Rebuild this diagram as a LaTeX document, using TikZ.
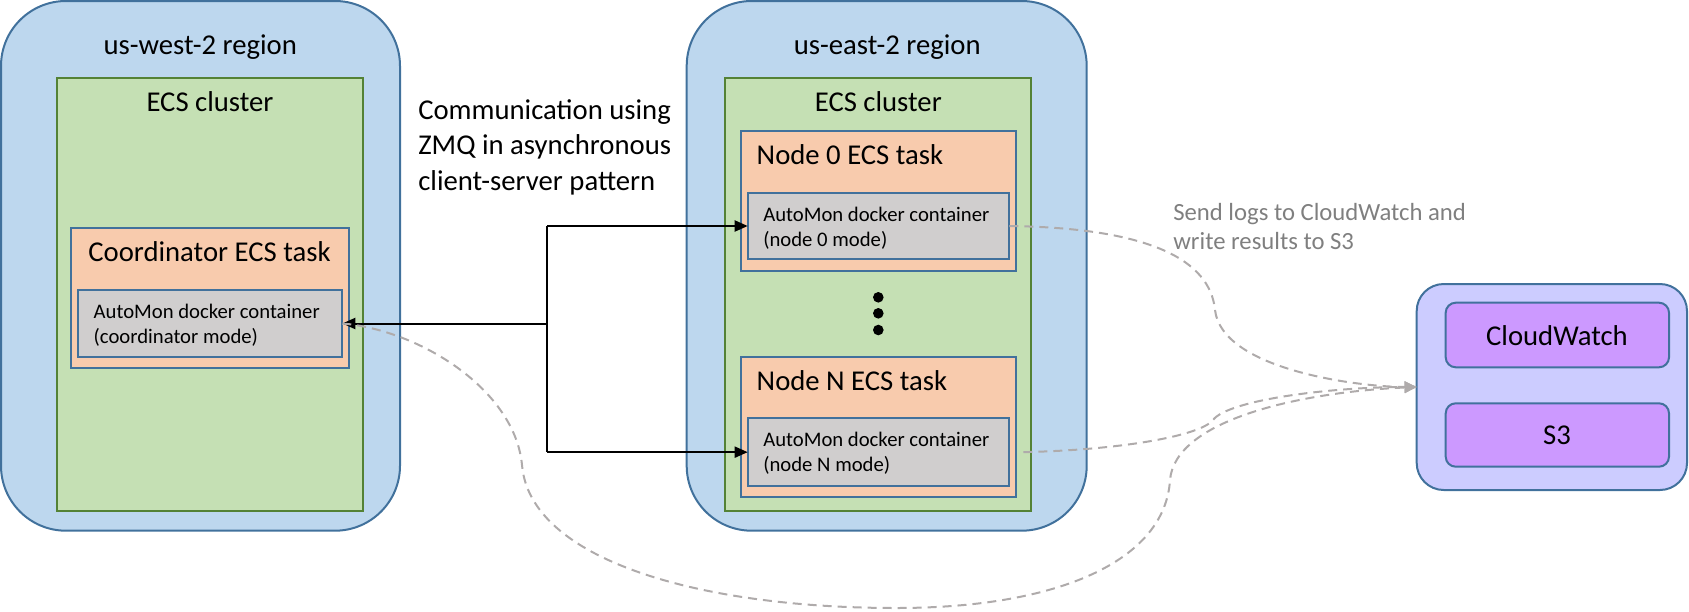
\documentclass[tikz,border=0pt]{standalone}
\usepackage{fontspec}
\setmainfont{Carlito}
\usetikzlibrary{arrows.meta}
\definecolor{regfill}{HTML}{BDD7EE}
\definecolor{bordblue}{HTML}{41719C}
\definecolor{clfill}{HTML}{C5E0B4}
\definecolor{clbord}{HTML}{548235}
\definecolor{taskfill}{HTML}{F8CBAD}
\definecolor{boxfill}{HTML}{D0CECE}
\definecolor{awsfill}{HTML}{CCCCFF}
\definecolor{svcfill}{HTML}{CC99FF}
\definecolor{dashgray}{HTML}{AFABAB}
\definecolor{txtgray}{HTML}{7F7F7F}
\begin{document}
\begin{tikzpicture}[x=1pt,y=-1pt,
  every node/.style={inner sep=0pt, outer sep=0pt},
  boxbase/.style={anchor=north west, line width=2pt},
  region/.style={boxbase, draw=bordblue, fill=regfill, rounded corners=65pt},
  cluster/.style={boxbase, draw=clbord, fill=clfill},
  taskbox/.style={boxbase, draw=bordblue, fill=taskfill},
  contbox/.style={boxbase, draw=bordblue, fill=boxfill},
  awsbox/.style={boxbase, draw=bordblue, fill=awsfill, rounded corners=27pt},
  svcbox/.style={boxbase, draw=bordblue, fill=svcfill, rounded corners=10pt},
  bigtext/.style={font=\fontsize{28.7pt}{35.5pt}\selectfont},
  smalltext/.style={font=\fontsize{20.7pt}{25pt}\selectfont, align=left},
  graytext/.style={font=\fontsize{24.7pt}{29.5pt}\selectfont, align=left, text=txtgray},
  dotmark/.style={circle, fill=black, minimum size=10.6pt},
  conn/.style={line width=2pt, -{Triangle[length=13pt,width=11pt]}},
  plainconn/.style={line width=2pt},
  logconn/.style={line width=2pt, draw=dashgray, dash pattern=on 9pt off 6pt,
    -{Triangle[length=12pt,width=11pt,fill=dashgray]}}
]
\useasboundingbox (0,0) rectangle (1689,611);

% us-west-2
\node[region, minimum width=399pt, minimum height=529.7pt] (west) at (1,1) {};
\node[bigtext, anchor=base] (westtitle) at (200.2,54.3) {us-west-2 region};
\node[cluster, minimum width=306.6pt, minimum height=432.4pt] (westcl) at (56.7,78.3) {};
\node[bigtext, anchor=base] (westcltitle) at (210,111) {ECS cluster};
\node[taskbox, minimum width=278.3pt, minimum height=139.4pt] (coordtask) at (70.7,228.3) {};
\node[bigtext, anchor=base] (coordtitle) at (209.5,261.7) {Coordinator ECS task};
\node[contbox, minimum width=264.6pt, minimum height=67pt] (coordbox) at (77.7,290) {};
\node[smalltext, anchor=base west] (coordtext) at (93.7,343.3) {AutoMon docker container\\(coordinator mode)};

% communication label
\node[bigtext, anchor=base west, align=left] (commtext) at (418.3,190) {Communication using\\ZMQ in asynchronous\\client-server pattern};

% us-east-2
\node[region, minimum width=400pt, minimum height=529.7pt] (east) at (686.7,1) {};
\node[bigtext, anchor=base] (easttitle) at (887.2,54.3) {us-east-2 region};
\node[cluster, minimum width=306pt, minimum height=432.4pt] (eastcl) at (725,78.3) {};
\node[bigtext, anchor=base] (eastcltitle) at (878.3,111) {ECS cluster};

\node[taskbox, minimum width=275.3pt, minimum height=139.7pt] (n0task) at (740.7,131) {};
\node[bigtext, anchor=base west] (n0title) at (756.7,164.3) {Node 0 ECS task};
\node[contbox, minimum width=261.6pt, minimum height=66.6pt] (n0box) at (747.7,192.7) {};
\node[smalltext, anchor=base west] (n0text) at (763.3,246) {AutoMon docker container\\(node 0 mode)};

\node[dotmark] (dot1) at (878.3,297.3) {};
\node[dotmark] (dot2) at (878.3,313.3) {};
\node[dotmark] (dot3) at (878.3,330) {};

\node[taskbox, minimum width=275.3pt, minimum height=140pt] (nNtask) at (740.7,356.7) {};
\node[bigtext, anchor=base west] (nNtitle) at (756.7,390) {Node N ECS task};
\node[contbox, minimum width=261.6pt, minimum height=67.7pt] (nNbox) at (747.7,418.3) {};
\node[smalltext, anchor=base west] (nNtext) at (763.3,471.7) {AutoMon docker container\\(node N mode)};

% AWS services
\node[awsbox, minimum width=270.3pt, minimum height=206pt] (aws) at (1416.7,284) {};
\node[svcbox, minimum width=223.3pt, minimum height=64.6pt] (cw) at (1445.7,302.7) {};
\node[bigtext, anchor=base] (cwtext) at (1557,345) {CloudWatch};
\node[svcbox, minimum width=223.3pt, minimum height=63.4pt] (s3) at (1445.7,403.3) {};
\node[bigtext, anchor=base] (s3text) at (1557,444.3) {S3};

\node[graytext, anchor=base west] (logtext) at (1173.3,249.5) {Send logs to CloudWatch and\\write results to S3};

% ZMQ connectors
\coordinate (hub) at (547,323.5);
\draw[plainconn] (n0box.west -| hub) -- (nNbox.west -| hub);
\draw[conn] (hub) -- (coordbox.east);
\draw[conn] (n0box.west -| hub) -- (n0box.west);
\draw[conn] (nNbox.west -| hub) -- (nNbox.west);

% log connectors
\draw[logconn] (n0box.east) .. controls (1150,228) and (1210,260) .. (1215,310)
  .. controls (1222,370) and (1360,387) .. (aws.west);
\draw[logconn] ([xshift=14pt]nNbox.east) .. controls (1120,450) and (1200,436) .. (1213,420)
  .. controls (1228,400) and (1330,387) .. (aws.west);
\draw[logconn] (coordbox.east) .. controls (420,330) and (515,390) .. (522,465)
  .. controls (530,560) and (700,608) .. (896,608)
  .. controls (1060,608) and (1165,560) .. (1170,480)
  .. controls (1175,420) and (1300,392) .. (aws.west);
\end{tikzpicture}
\end{document}
